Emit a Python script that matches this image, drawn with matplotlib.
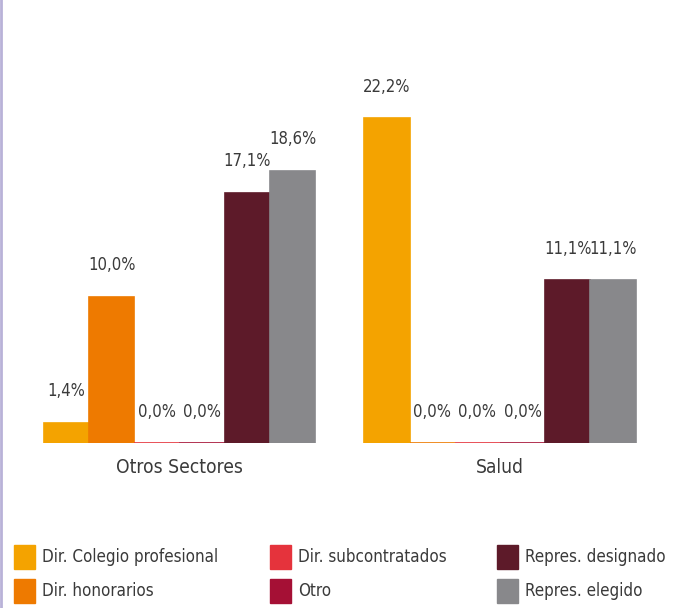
import numpy as np
import matplotlib
matplotlib.use('Agg')
import matplotlib.pyplot as plt
from matplotlib.patches import Rectangle
from matplotlib import font_manager

groups = ['Otros Sectores', 'Salud']
series = ['Dir. Colegio profesional', 'Dir. honorarios', 'Dir. subcontratados',
          'Otro', 'Repres. designado', 'Repres. elegido']
values = [
    [1.4, 22.2],   # Dir. Colegio profesional
    [10.0, 0.0],   # Dir. honorarios
    [0.0, 0.0],    # Dir. subcontratados
    [0.0, 0.0],    # Otro
    [17.1, 11.1],  # Repres. designado
    [18.6, 11.1],  # Repres. elegido
]
colors = ['#F4A300', '#EE7A00', '#E5333C', '#A51035', '#5D1A29', '#88888B']


def pick_font():
    # look for a narrow / condensed face, the reference uses one
    for f in font_manager.fontManager.ttflist:
        nm = f.name.lower()
        st = str(f.stretch).lower()
        narrow = 'narrow' in nm or 'condensed' in nm or 'condensed' in st
        if narrow and f.style == 'normal' and str(f.weight) in ('400', 'normal', 'regular', '300', 'light'):
            return font_manager.FontProperties(fname=f.fname), True
    return font_manager.FontProperties(family='Liberation Sans'), False


fp, condensed = pick_font()
if condensed:
    val_size, cat_size, leg_size = 12, 13.8, 12.2
else:
    val_size, cat_size, leg_size = 11, 13.5, 12.5
text_color = '#3a3a3a'

fig = plt.figure(figsize=(6.75, 6.08), dpi=100)
ax = fig.add_axes([0, (608 - 443) / 608, 1, 443 / 608])

x = np.arange(len(groups))
width = 0.141
n = len(series)
for i, (name, vals, c) in enumerate(zip(series, values, colors)):
    pos = x + (i - (n - 1) / 2) * width
    ax.bar(pos, vals, width, color=c, edgecolor=c, linewidth=1.2, label=name)
    for px, v in zip(pos, vals):
        ax.annotate(('%.1f%%' % v).replace('.', ','), (px, v),
                    xytext=(0, 16), textcoords='offset points',
                    ha='center', va='bottom', fontproperties=fp,
                    fontsize=val_size, color=text_color)

ax.set_xlim(-0.560, 1.546)
ax.set_ylim(0, 30.26)
ax.axis('off')

for gx, g in zip(x, groups):
    ax.annotate(g, (gx, 0), xytext=(0, -11), textcoords='offset points',
                ha='center', va='top', fontproperties=fp,
                fontsize=cat_size, color=text_color)

# legend, 3 columns x 2 rows
W, H = 675, 608
col_x = [14, 270, 497]
row_y = [557, 591]
for i, (name, c) in enumerate(zip(series, colors)):
    cx = col_x[i // 2]
    cy = row_y[i % 2]
    fig.patches.append(Rectangle((cx / W, (H - cy - 12) / H), 21 / W, 24 / H,
                                 transform=fig.transFigure, color=c))
    fig.text((cx + 28) / W, (H - cy) / H, name, ha='left', va='center',
             fontproperties=fp, fontsize=leg_size, color=text_color)

# left border line
fig.add_artist(plt.Line2D([1 / W, 1 / W], [0, 1], transform=fig.transFigure,
                          color='#B9B2D8', linewidth=2))

fig.savefig('out.png', dpi=100)
